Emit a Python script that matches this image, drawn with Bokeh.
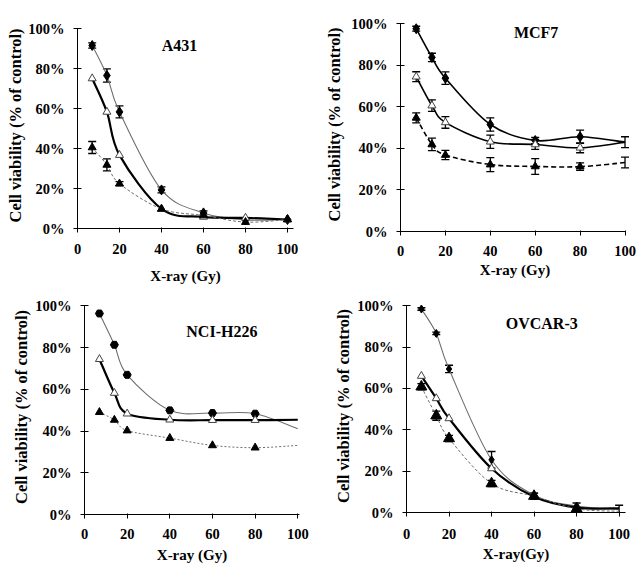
import numpy as np
from bokeh.plotting import figure
from bokeh.layouts import row, column
from bokeh.models import (Range1d, PrintfTickFormatter, FixedTicker, Whisker, TeeHead,
                          ColumnDataSource, Label)
from bokeh.embed import file_html
from bokeh.resources import INLINE

# ---------------- data ----------------
dose = [7, 14, 20, 40, 60, 80, 100]
x_ticks = [0, 20, 40, 60, 80, 100]
y_ticks = [0, 20, 40, 60, 80, 100]

a431_dia = [91.5, 76.5, 58.3, 19.3, 7.8, 4.3, 4.5]
a431_dia_err = [1.3, 3.3, 3.0, 1.5, 1.0, 0, 0]
a431_open = [75.0, 58.3, 36.7, 9.8, 5.8, 5.3, 4.5]
a431_open_err = [0, 0, 0, 0, 0, 0, 0]
a431_fill = [40.5, 31.8, 22.4, 9.8, 6.5, 3.2, 4.5]
a431_fill_err = [3.0, 3.0, 1.0, 0, 0, 0, 0]

mcf7_dia = [97.6, 83.8, 73.8, 51.5, 43.8, 45.6, 43.0]
mcf7_dia_err = [1.2, 2.0, 3.0, 3.2, 1.5, 3.2, 2.6]
mcf7_open = [74.5, 60.6, 52.5, 43.2, 41.9, 40.3, 43.0]
mcf7_open_err = [2.4, 2.8, 2.8, 3.2, 2.4, 2.4, 0]
mcf7_fill = [54.7, 41.9, 36.8, 32.2, 31.3, 31.2, 33.2]
mcf7_fill_err = [2.4, 3.0, 2.2, 3.4, 3.8, 1.8, 2.6]

nci_dia = [96.3, 81.3, 66.9, 49.9, 48.6, 48.3, 41.1]
nci_dia_err = [0, 0, 0, 0, 0, 0, 0]
nci_open = [74.4, 58.2, 48.3, 45.4, 45.2, 45.2, 45.4]
nci_open_err = [0, 0, 0, 0, 0, 0, 0]
nci_fill = [49.0, 45.3, 40.2, 36.6, 33.1, 32.0, 33.1]
nci_fill_err = [0, 0, 0, 0, 0, 0, 0]

ovc_dia = [98.4, 86.6, 69.4, 25.5, 8.4, 3.1, 1.5]
ovc_dia_err = [0.6, 0.6, 1.8, 4.0, 1.0, 1.5, 2.0]
ovc_open = [66.0, 55.2, 45.5, 21.3, 7.6, 2.4, 2.0]
ovc_open_err = [0, 0, 0, 0, 0, 0, 0]
ovc_fill = [60.8, 46.8, 35.8, 14.0, 7.9, 1.8, 0.6]
ovc_fill_err = [1.5, 2.2, 1.5, 1.5, 1.5, 1.0, 0]

FONT = "Liberation Serif"


def smooth(p, xs, ys, **kw):
    xs = np.asarray(xs, float)
    ys = np.asarray(ys, float)
    n = len(xs)
    x0, y0, x1, y1, cx0, cy0, cx1, cy1 = [], [], [], [], [], [], [], []
    for i in range(n - 1):
        im = max(i - 1, 0)
        ip2 = min(i + 2, n - 1)
        x0.append(xs[i]); y0.append(ys[i])
        x1.append(xs[i + 1]); y1.append(ys[i + 1])
        cx0.append(xs[i] + (xs[i + 1] - xs[im]) / 6)
        cy0.append(ys[i] + (ys[i + 1] - ys[im]) / 6)
        cx1.append(xs[i + 1] - (xs[ip2] - xs[i]) / 6)
        cy1.append(ys[i + 1] - (ys[ip2] - ys[i]) / 6)
    p.bezier(x0=x0, y0=y0, x1=x1, y1=y1, cx0=cx0, cy0=cy0, cx1=cx1, cy1=cy1, **kw)


def errbars(p, xs, ys, errs):
    sel = [i for i, e in enumerate(errs) if e > 0]
    if not sel:
        return
    src = ColumnDataSource(dict(
        x=[xs[i] for i in sel],
        lo=[ys[i] - errs[i] for i in sel],
        hi=[ys[i] + errs[i] for i in sel]))
    w = Whisker(source=src, base="x", lower="lo", upper="hi", dimension="height",
                line_color="black", line_width=1.3,
                upper_head=TeeHead(size=8, line_color="black", line_width=1.3),
                lower_head=TeeHead(size=8, line_color="black", line_width=1.3))
    p.add_layout(w)


def panel(name, xend, fw, fh, mbl, mbr, mbt, mbb, xbounds, title_xy,
          series, xlabel, tick_std, xlab_std, ylab_std, nmark,
          tri_size=8, dia_marker="diamond", dia_size=10):
    p = figure(width=mbl + fw + mbr, height=mbt + fh + mbb,
               frame_width=fw, frame_height=fh,
               x_range=Range1d(0, xend), y_range=Range1d(0, 103),
               output_backend="svg", toolbar_location=None,
               min_border_left=mbl, min_border_right=mbr,
               min_border_top=mbt, min_border_bottom=mbb)
    p.frame_align = False
    p.outline_line_color = None
    p.grid.visible = False
    p.background_fill_color = "white"
    p.border_fill_color = "white"
    for ax in (p.xaxis, p.yaxis):
        ax.axis_line_color = "black"
        ax.axis_line_width = 1
        ax.major_tick_line_color = "black"
        ax.minor_tick_line_color = None
        ax.major_label_text_font = FONT
        ax.major_label_text_font_style = "bold"
        ax.major_label_text_font_size = "14.5px"
        ax.major_label_text_color = "black"
        ax.axis_label_text_font = FONT
        ax.axis_label_text_font_style = "bold"
        ax.axis_label_text_color = "black"
    p.xaxis.axis_label_text_font_size = "15px"
    p.yaxis.axis_label_text_font_size = "16.5px"
    p.xaxis.ticker = FixedTicker(ticks=x_ticks)
    p.yaxis.ticker = FixedTicker(ticks=y_ticks)
    p.yaxis.formatter = PrintfTickFormatter(format="%d%%")
    p.yaxis.bounds = (0, 100)
    if xbounds is not None:
        p.xaxis.bounds = xbounds
    p.xaxis.major_tick_in = 1
    p.xaxis.major_tick_out = 4
    p.yaxis.major_tick_in = 4
    p.yaxis.major_tick_out = 4
    p.xaxis.major_label_standoff = tick_std
    p.yaxis.major_label_standoff = 9
    p.xaxis.axis_label = xlabel
    p.yaxis.axis_label = "Cell viability (% of control)"
    p.xaxis.axis_label_standoff = xlab_std
    p.yaxis.axis_label_standoff = ylab_std

    for (ys, errs, kind, lcol, lw, dash) in series:
        smooth(p, dose, ys, line_color=lcol, line_width=lw, line_dash=dash)
    for (ys, errs, kind, lcol, lw, dash) in series:
        errbars(p, dose, ys, errs)
    for (ys, errs, kind, lcol, lw, dash) in series:
        xs = dose[:nmark]
        yv = ys[:nmark]
        if kind == "dia":
            p.scatter(xs, yv, marker=dia_marker, size=dia_size, fill_color="black",
                      line_color="black")
        elif kind == "open":
            p.scatter(xs, yv, marker="triangle", size=8, fill_color="white",
                      line_color="#444444", line_width=1)
        else:
            p.scatter(xs, yv, marker="triangle", size=tri_size, fill_color="black",
                      line_color="black")

    p.add_layout(Label(x=title_xy[0], y=title_xy[1], text=name, text_font=FONT,
                       text_font_style="bold", text_font_size="16px",
                       text_color="black", text_align="center", text_baseline="middle"))
    return p


GRAY = "#6e6e6e"

p1 = panel("A431", 102.86, 216, 206, 77, 29, 22, 64, None, (48.6, 91.5),
           [(a431_dia, a431_dia_err, "dia", GRAY, 1.1, "solid"),
            (a431_open, a431_open_err, "open", "black", 2.2, "solid"),
            (a431_fill, a431_fill_err, "fill", GRAY, 1.0, "3 2")],
           "X-ray (Gy)", 11, 11, 0, 7)

p2 = panel("MCF7", 102.0, 229, 214, 72, 21, 17, 61, (0, 100), (60.4, 95.8),
           [(mcf7_dia, mcf7_dia_err, "dia", "black", 1.6, "solid"),
            (mcf7_open, mcf7_open_err, "open", "black", 1.6, "solid"),
            (mcf7_fill, mcf7_fill_err, "fill", "black", 1.6, "5 3")],
           "X-ray (Gy)", 10, 3, 4, 6)

p3 = panel("NCI-H226", 100.8, 215, 215, 84, 23, 7, 63, None, (64.4, 87.9),
           [(nci_dia, nci_dia_err, "dia", GRAY, 1.1, "solid"),
            (nci_open, nci_open_err, "open", "black", 2.2, "solid"),
            (nci_fill, nci_fill_err, "fill", GRAY, 1.0, "2 2")],
           "X-ray (Gy)", 10, 5, 1, 6, dia_marker="hex", dia_size=8)

p4 = panel("OVCAR-3", 103.0, 219, 213, 84, 19, 7, 65, None, (63.6, 91.6),
           [(ovc_dia, ovc_dia_err, "dia", GRAY, 1.1, "solid"),
            (ovc_open, ovc_open_err, "open", "black", 2.2, "solid"),
            (ovc_fill, ovc_fill_err, "fill", GRAY, 1.0, "3 2")],
           "X-ray(Gy)", 12, 4, 1, 6, tri_size=11, dia_size=8)

layout = column(row(p1, p2), row(p3, p4))
open("out.html", "w").write(file_html(layout, INLINE))
